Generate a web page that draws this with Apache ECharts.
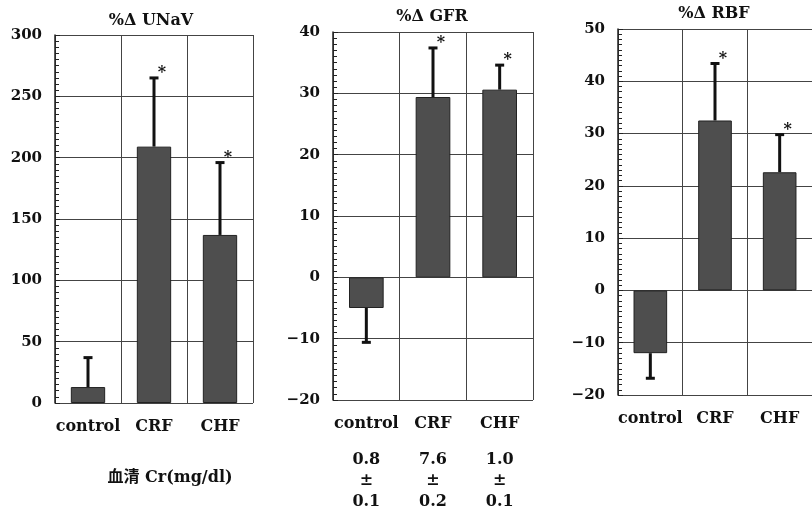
<!DOCTYPE html>
<html><head><meta charset="utf-8">
<script src="https://cdn.jsdelivr.net/npm/echarts@6/dist/echarts.min.js"></script>
<style>html,body{margin:0;padding:0;background:#fff}#c{width:812px;height:513px}</style>
</head><body><div id="c"></div>
<script>
const categories = ['control', 'CRF', 'CHF'];
const unavMean = [13, 209, 137];
const unavSD = [24, 56, 59];
const gfrMean = [-5, 29.4, 30.6];
const gfrSD = [5.6, 8, 4];
const rbfMean = [-12, 32.5, 22.6];
const rbfSD = [4.8, 10.9, 7.2];
const significant = [false, true, true];
const serumCrMean = ['0.8', '7.6', '1.0'];
const serumCrSD = ['0.1', '0.2', '0.1'];
const titles = ['%Δ UNaV', '%Δ GFR', '%Δ RBF'];
const crLabel = '血清 Cr(mg/dl)';

const FONT = '"DejaVu Serif", "Noto Sans CJK JP", serif';
const GRID = '#444';

const panels = [
  {mean: unavMean, sd: unavSD, min: 0, max: 300, interval: 50, grid: {left: 55, top: 35, width: 198, height: 368}, titleX: 151, titleY: 21},
  {mean: gfrMean, sd: gfrSD, min: -20, max: 40, interval: 10, grid: {left: 333, top: 32, width: 200, height: 368}, titleX: 432, titleY: 17},
  {mean: rbfMean, sd: rbfSD, min: -20, max: 50, interval: 10, grid: {left: 618, top: 29, width: 201, height: 366}, titleX: 714, titleY: 14}
];

const grids = [], xAxes = [], yAxes = [], series = [], graphics = [];
panels.forEach((p, i) => {
  grids.push(Object.assign({containLabel: false}, p.grid));
  xAxes.push({
    type: 'category', gridIndex: i, data: categories,
    axisLine: {show: false}, axisTick: {show: false, interval: 0},
    axisLabel: {interval: 0, color: '#111', fontFamily: FONT, fontWeight: 'bold', fontSize: 16, margin: 16},
    splitLine: {show: true, interval: 0, lineStyle: {color: GRID, width: 1}}
  });
  yAxes.push({
    type: 'value', gridIndex: i, min: p.min, max: p.max, interval: p.interval,
    axisLine: {show: true, onZero: false, lineStyle: {color: '#222', width: 1.5}},
    axisTick: {show: true, inside: true, length: 5, lineStyle: {color: '#222'}},
    minorTick: {show: true, splitNumber: 10, length: 4, lineStyle: {color: '#222', width: 1}},
    axisLabel: {color: '#111', fontFamily: FONT, fontWeight: 'bold', fontSize: 15, margin: 13,
      formatter: v => (v < 0 ? '\u2212' + Math.abs(v) : String(v))},
    splitLine: {show: true, lineStyle: {color: GRID, width: 1}}
  });
  series.push({
    type: 'bar', xAxisIndex: i, yAxisIndex: i, data: p.mean, barWidth: '52%',
    itemStyle: {color: '#4e4e4e', borderColor: '#222', borderWidth: 1},
    silent: true, animation: false
  });
  series.push({
    type: 'custom', xAxisIndex: i, yAxisIndex: i, animation: false, silent: true,
    data: p.mean.map((m, k) => [k, m, p.sd[k], significant[k] ? 1 : 0]),
    renderItem: function (params, api) {
      const k = api.value(0), m = api.value(1), s = api.value(2), sig = api.value(3);
      const end = m >= 0 ? m + s : m - s;
      const a = api.coord([k, m]);
      const b = api.coord([k, end]);
      const children = [
        {type: 'line', shape: {x1: a[0], y1: a[1], x2: b[0], y2: b[1]}, style: {stroke: '#111', lineWidth: 3}},
        {type: 'line', shape: {x1: b[0] - 4.5, y1: b[1], x2: b[0] + 4.5, y2: b[1]}, style: {stroke: '#111', lineWidth: 3}}
      ];
      if (sig) {
        children.push({type: 'text', x: b[0] + 8, y: b[1] - 5,
          style: {text: '*', fill: '#111', font: 'bold 16px ' + FONT, textAlign: 'center', textVerticalAlign: 'middle'}});
      }
      return {type: 'group', children: children};
    }
  });
  graphics.push({type: 'text', x: p.titleX, y: p.titleY, style: {text: titles[i], fill: '#111', font: 'bold 16px ' + FONT, textAlign: 'center', textVerticalAlign: 'middle'}});
});

// serum creatinine row under GFR panel
xAxes.push({
  type: 'category', gridIndex: 1, data: categories, position: 'bottom', offset: 45,
  axisLine: {show: false}, axisTick: {show: false}, splitLine: {show: false},
  axisLabel: {interval: 0, color: '#111', fontFamily: FONT, fontWeight: 'bold', fontSize: 16, lineHeight: 21, margin: 4,
    formatter: (v, idx) => serumCrMean[idx] + '\n±\n' + serumCrSD[idx]}
});

const chart = echarts.init(document.getElementById('c'), null, {renderer: 'canvas'});
chart.setOption({
  animation: false,
  grid: grids, xAxis: xAxes, yAxis: yAxes, series: series,
  graphic: graphics.concat([
    {type: 'text', x: 170, y: 478, style: {text: crLabel, fill: '#111', font: 'bold 16px ' + FONT, textAlign: 'center', textVerticalAlign: 'middle'}}
  ])
});
</script></body></html>
